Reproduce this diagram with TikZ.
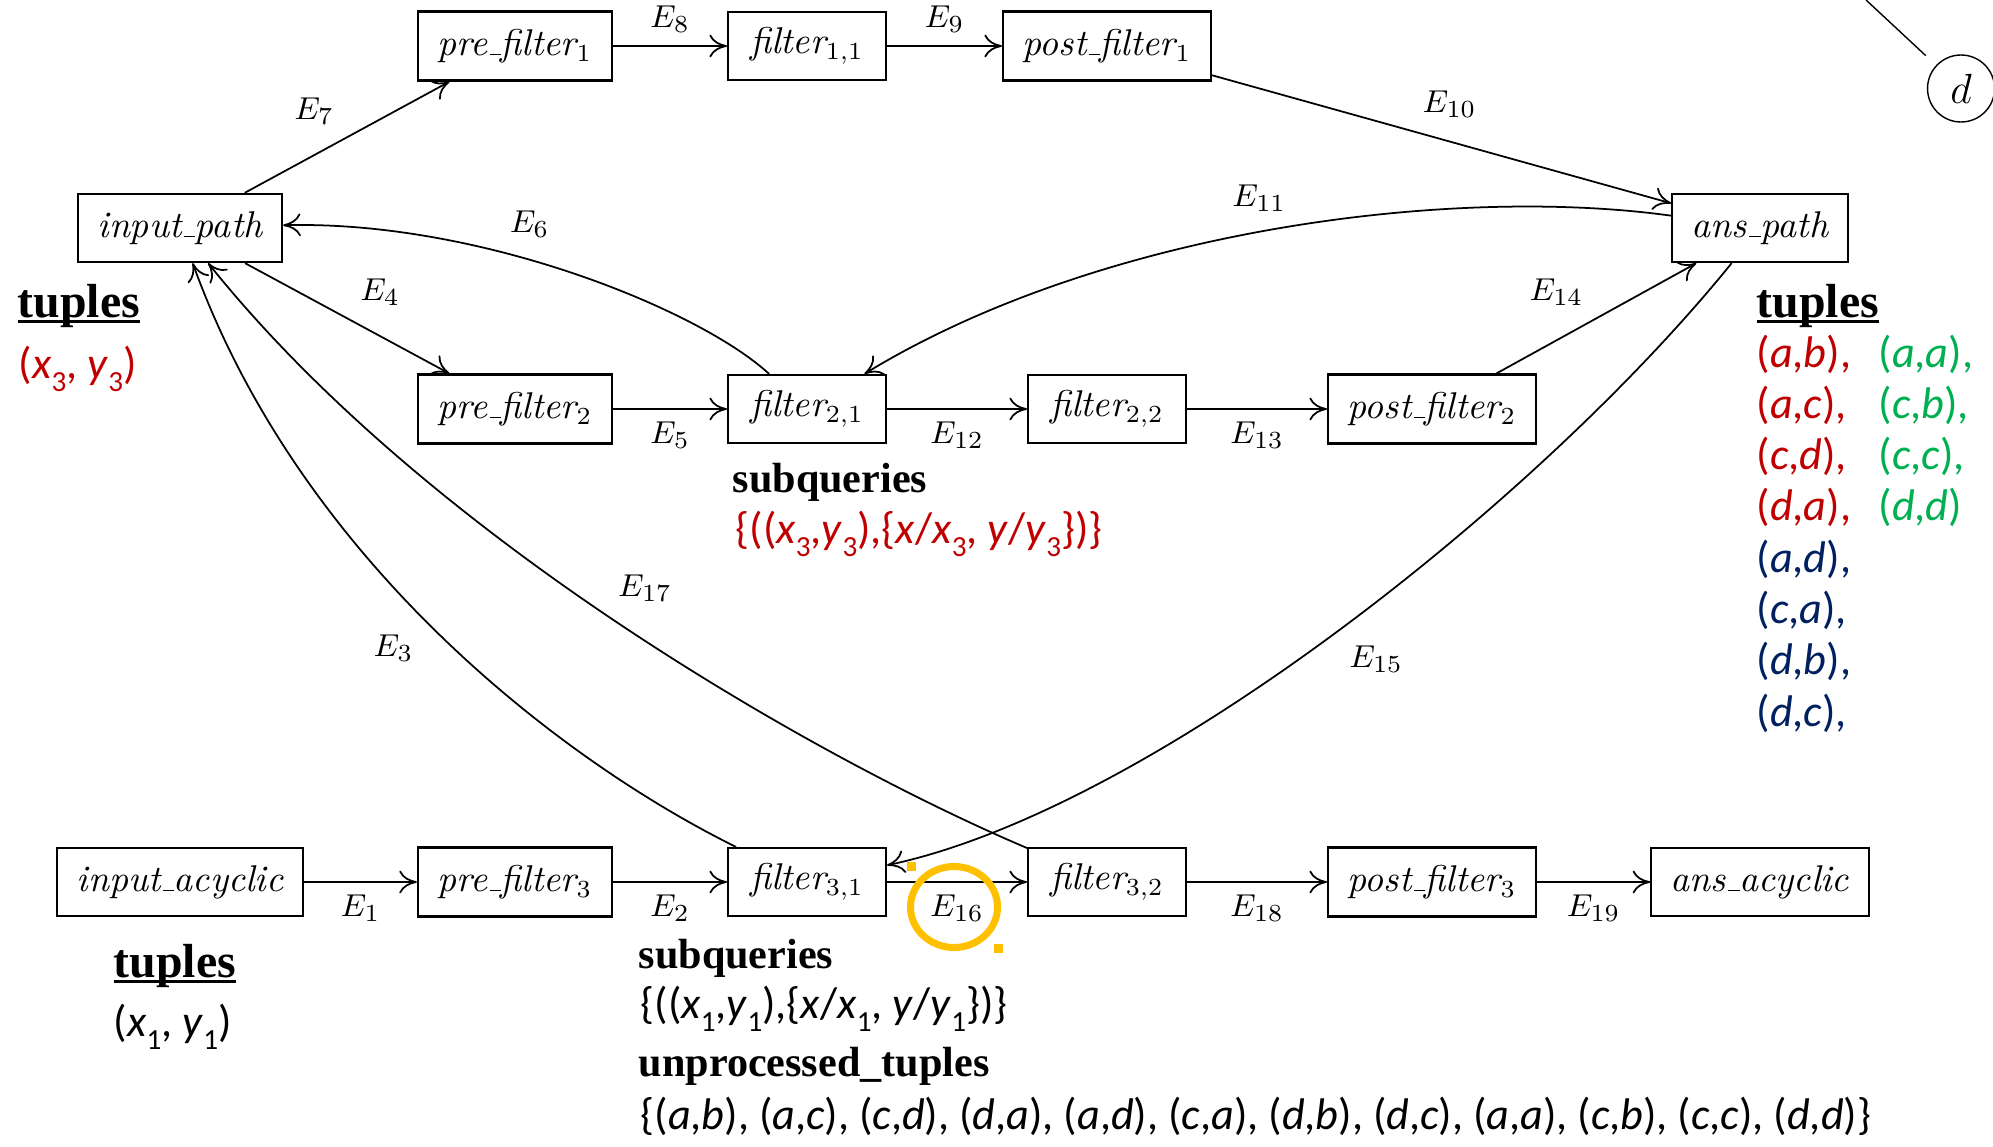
\documentclass[tikz,border=0pt]{standalone}
\usepackage{fontspec}
\usepackage{xcolor}
\usepackage{tikz}
\usetikzlibrary{arrows.meta,positioning}

\newfontfamily\calfont{Carlito}
\newfontfamily\headfont{Liberation Serif}
\definecolor{tred}{HTML}{C00000}
\definecolor{tgreen}{HTML}{00B050}
\definecolor{tblue}{HTML}{002060}
\definecolor{hilite}{HTML}{FFC000}

\newcommand{\us}{\leavevmode\kern.06em\vbox{\hrule width .3em}}
\newcommand{\tp}[2]{(\textit{#1},\textit{#2})}
\newcommand{\vs}[2]{\textit{#1}\raisebox{-0.3em}{\fontsize{8.3}{9}\selectfont #2}}
\newcommand{\uword}[1]{\setbox0=\hbox{#1}\rlap{\rule[-1.7pt]{\wd0}{0.8pt}}\box0}

\begin{document}
\begin{tikzpicture}[
    node distance=3cm, on grid,
    box/.style={rectangle, draw, line width=0.6pt, inner xsep=5.6pt, inner ysep=5pt, font=\fontsize{10.6}{12.7}\selectfont\itshape},
    filterbox/.style={box, inner ysep=3.5pt, minimum width=1.58cm, minimum height=0.68cm},
    arrow/.style={->, >={To[length=5pt,width=6.5pt]}, line width=0.5pt},
    elab/.style={auto, inner sep=3.5pt, font=\fontsize{9.5}{11}\selectfont},
    headbig/.style={anchor=base west, inner sep=0pt, font=\headfont\bfseries\fontsize{13.6}{16}\selectfont},
    headsmall/.style={anchor=base west, inner sep=0pt, font=\headfont\bfseries\fontsize{12}{14}\selectfont},
    settext/.style={anchor=base west, inner sep=0pt, font=\calfont\fontsize{12.6}{15}\selectfont}
]
    \useasboundingbox (0,0) rectangle (19.93,-11.46);

    % acyclic row
    \node [box] (ia) at (1.80,-8.82) {input\us acyclic};
    \node [box, right=3.35cm of ia] (pf3) {pre\us filter$_3$};
    \node [filterbox, right=2.92cm of pf3] (f31) {filter$_{3,1}$};
    \node [filterbox, right=3.00cm of f31] (f32) {filter$_{3,2}$};
    \node [box, right=3.25cm of f32] (pof3) {post\us filter$_3$};
    \node [box, right=3.28cm of pof3] (aa) {ans\us acyclic};

    % path rows
    \node [box, above=4.73cm of pf3] (pf2) {pre\us filter$_2$};
    \node [filterbox, right=2.92cm of pf2] (f21) {filter$_{2,1}$};
    \node [filterbox, right=3.00cm of f21] (f22) {filter$_{2,2}$};
    \node [box, right=3.25cm of f22] (pof2) {post\us filter$_2$};
    \node [box, above=3.63cm of pf2] (pf1) {pre\us filter$_1$};
    \node [filterbox, right=2.92cm of pf1] (f11) {filter$_{1,1}$};
    \node [box, right=3.00cm of f11] (pof1) {post\us filter$_1$};
    \node [box, above=6.54cm of ia] (ip) {input\us path};
    \node [box, above=6.54cm of aa] (ap) {ans\us path};

    % graph vertex in the corner
    \node [draw, circle, minimum size=0.67cm, inner sep=0pt, font=\fontsize{13}{15}\selectfont] (d) at (19.61,-0.885) {$d$};
    \coordinate (dtop) at (18.66,0);
    \draw [line width=0.4pt, shorten >=4pt] (dtop) -- (d);

    % straight edges
    \draw [arrow] (ia) -- node[elab, swap] {$E_1$} (pf3);
    \draw [arrow] (pf3) -- node[elab, swap] {$E_2$} (f31);
    \draw [arrow] (ip) -- node[elab] {$E_4$} (pf2);
    \draw [arrow] (pf2) -- node[elab, swap] {$E_5$} (f21);
    \draw [arrow] (ip) -- node[elab] {$E_7$} (pf1);
    \draw [arrow] (pf1) -- node[elab] {$E_8$} (f11);
    \draw [arrow] (f11) -- node[elab] {$E_9$} (pof1);
    \draw [arrow] (pof1) -- node[elab, pos=0.43] {$E_{10}$} (ap);
    \draw [arrow] (f21) -- node[elab, swap] {$E_{12}$} (f22);
    \draw [arrow] (f22) -- node[elab, swap] {$E_{13}$} (pof2);
    \draw [arrow] (pof2) -- node[elab] {$E_{14}$} (ap);
    \draw [arrow] (f31) -- node[elab, swap] {$E_{16}$} (f32);
    \draw [arrow] (f32) -- node[elab, swap] {$E_{18}$} (pof3);
    \draw [arrow] (pof3) -- node[elab, swap] {$E_{19}$} (aa);

    % curved edges
    \draw [arrow] (f21) .. controls (7.00,-3.10) and (4.80,-2.20) .. (ip) node[elab, swap, pos=0.64] {$E_6$};
    \draw [arrow] (ap) .. controls (14.50,-1.85) and (11.00,-2.30) .. (f21) node[elab, swap, pos=0.47] {$E_{11}$};
    \draw [arrow] (ap) .. controls (15.40,-5.00) and (11.50,-8.10) .. (f31) node[elab, pos=0.5] {$E_{15}$};
    \draw [arrow] (f31) .. controls (5.60,-7.60) and (3.00,-5.60) .. (ip) node[elab, pos=0.52] {$E_3$};
    \draw [arrow] (f32) .. controls (8.20,-7.60) and (4.30,-5.40) .. (ip) node[elab, swap, pos=0.52] {$E_{17}$};

    % tuples of input_path and ans_path
    \node [headbig] (tupL) at (0.17,-3.17) {\uword{tuples}};
    \node [settext, text=tred] (inL) at (0.18,-3.78) {(\vs{x}{3}, \vs{y}{3})};
    \node [headbig] (tupR) at (17.56,-3.17) {\uword{tuples}};
    \foreach \a/\b/\c [count=\k from 0] in {a/b/tred, a/c/tred, c/d/tred, d/a/tred, a/d/tblue, c/a/tblue, d/b/tblue, d/c/tblue}
        \node [settext, text=\c] (r\k) at (17.56,-3.67-0.513*\k) {\tp{\a}{\b},};
    \foreach \a/\b/\e [count=\k from 0] in {a/a/{,}, c/b/{,}, c/c/{,}, d/d/{}}
        \node [settext, text=tgreen] (g\k) at (18.78,-3.67-0.513*\k) {\tp{\a}{\b}\e};

    % subqueries of filter 2,1
    \node [headsmall] (subM) at (7.32,-4.92) {subqueries};
    \node [settext, text=tred] (setM) at (7.35,-5.43) {\{((\vs{x}{3},\vs{y}{3}),\{\textit{x}/\vs{x}{3}, \textit{y}/\vs{y}{3}\})\}};

    % acyclic side
    \node [headbig] (tupB) at (1.13,-9.77) {\uword{tuples}};
    \node [settext] (inB) at (1.13,-10.36) {(\vs{x}{1}, \vs{y}{1})};
    \node [headsmall] (subB) at (6.38,-9.68) {subqueries};
    \node [settext] (setB) at (6.40,-10.18) {\{((\vs{x}{1},\vs{y}{1}),\{\textit{x}/\vs{x}{1}, \textit{y}/\vs{y}{1}\})\}};
    \node [headsmall] (unp) at (6.38,-10.76) {unprocessed\_tuples};
    \node [settext] (setU) at (6.40,-11.29) {\{\tp{a}{b}, \tp{a}{c}, \tp{c}{d}, \tp{d}{a}, \tp{a}{d}, \tp{c}{a}, \tp{d}{b}, \tp{d}{c}, \tp{a}{a}, \tp{c}{b}, \tp{c}{c}, \tp{d}{d}\}};

    % highlight on E16
    \draw [hilite, line width=2pt] (9.54,-9.07) ellipse [x radius=0.435, y radius=0.405];
    \fill [hilite] (9.065,-8.615) rectangle +(0.09,-0.09);
    \fill [hilite] (9.935,-9.435) rectangle +(0.09,-0.09);
\end{tikzpicture}
\end{document}
